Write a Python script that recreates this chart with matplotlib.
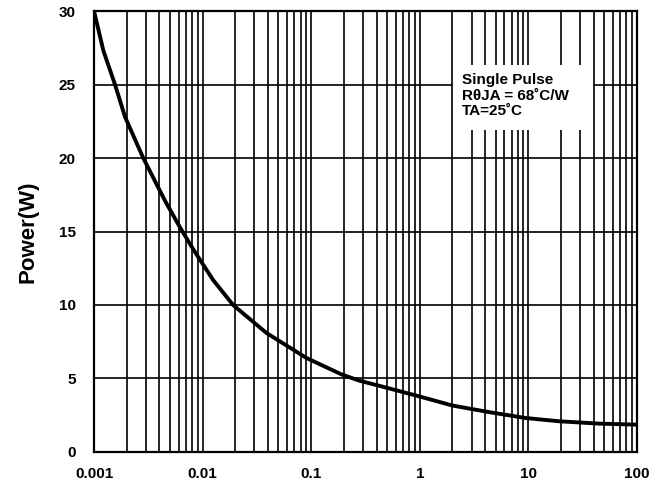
import matplotlib
matplotlib.use('Agg')
import matplotlib.pyplot as plt
import numpy as np
from matplotlib.patches import Rectangle
from matplotlib.ticker import LogLocator, FixedLocator, NullFormatter

plt.rcParams['font.family'] = ['Liberation Sans', 'DejaVu Sans']
plt.rcParams['font.weight'] = 'bold'

# pulse time (s) vs peak power (W)
pulse_time = [0.001, 0.00122, 0.00156, 0.00193, 0.00284, 0.0045, 0.00617, 0.00818,
              0.0125, 0.0191, 0.0387, 0.0902, 0.19, 0.278, 0.425, 0.925, 2.0,
              4.36, 9.48, 19.2, 44.8, 100]
power = [30, 27.3, 25, 22.8, 20, 17.1, 15.3, 13.8,
         11.7, 10.0, 8.1, 6.4, 5.28, 4.85, 4.5, 3.84, 3.16,
         2.71, 2.31, 2.09, 1.93, 1.86]

x_ticks = [0.001, 0.01, 0.1, 1, 10, 100]
x_tick_labels = ['0.001', '0.01', '0.1', '1', '10', '100']
y_ticks = [0, 5, 10, 15, 20, 25, 30]

note = 'Single Pulse\nR\u03b8JA = 68\u02daC/W\nTA=25\u02daC'

fig = plt.figure(figsize=(6.7, 4.83), dpi=100)
ax = fig.add_axes([0.1403, 0.0642, 0.8104, 0.913])

ax.plot(pulse_time, power, color='black', linewidth=2.8,
        solid_joinstyle='round', zorder=3)

ax.set_xscale('log')
ax.set_xlim(0.001, 100)
ax.set_ylim(0, 30)
ax.xaxis.set_major_locator(FixedLocator(x_ticks))
ax.set_xticklabels(x_tick_labels)
ax.xaxis.set_minor_locator(LogLocator(base=10, subs=np.arange(2, 10)))
ax.xaxis.set_minor_formatter(NullFormatter())
ax.set_yticks(y_ticks)

ax.grid(True, which='both', axis='x', color='black', linewidth=1.2)
ax.grid(True, which='major', axis='y', color='black', linewidth=1.2)
ax.set_axisbelow(True)

ax.tick_params(axis='both', which='both', length=0)
ax.tick_params(axis='x', pad=11, labelsize=11)
ax.tick_params(axis='y', pad=13, labelsize=11)
for lbl in ax.get_xticklabels() + ax.get_yticklabels():
    lbl.set_fontweight('bold')

for s in ax.spines.values():
    s.set_linewidth(1.6)
    s.set_color('black')

ax.set_ylabel('Power(W)', fontsize=16, fontweight='bold')
ax.yaxis.set_label_coords(-0.103, 0.5)

# white panel behind the note
ax.add_patch(Rectangle((0.661, 0.730), 0.258, 0.147, transform=ax.transAxes,
                       facecolor='white', edgecolor='none', zorder=2))
ax.text(0.677, 0.859, note, transform=ax.transAxes, ha='left', va='top',
        fontsize=11, fontweight='bold', linespacing=1.15, zorder=4)

fig.savefig('out.png', dpi=100)
